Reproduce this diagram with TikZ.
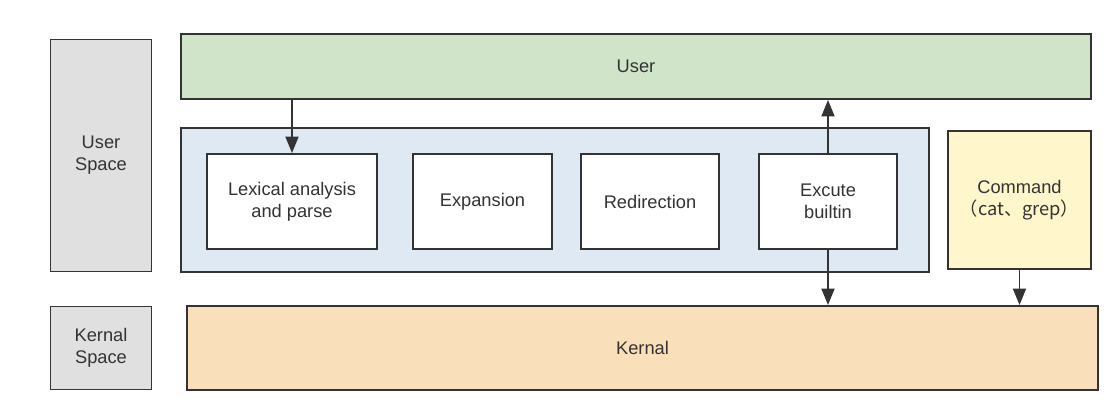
\documentclass[tikz,border=0pt]{standalone}
\usepackage{fontspec}
\setmainfont{Liberation Sans}
\newfontfamily\cjk{Noto Sans CJK SC}
\usetikzlibrary{arrows.meta}
\definecolor{userfill}{RGB}{208,228,201}
\definecolor{shellfill}{RGB}{222,233,243}
\definecolor{cmdfill}{RGB}{255,246,204}
\definecolor{kernfill}{RGB}{250,224,186}
\definecolor{spacefill}{RGB}{224,224,224}
\definecolor{linegray}{RGB}{51,51,51}
\begin{document}
\begin{tikzpicture}[x=0.02cm,y=-0.02cm]
	\tikzstyle{layer}=[rectangle,line width=1.1pt,draw=linegray,text=linegray,align=center,inner sep=0pt,font=\fontsize{10.4}{12.4}\selectfont]
	\tikzstyle{space}=[layer,fill=spacefill,minimum width=2.02cm]
	\tikzstyle{stage}=[layer,fill=white,minimum height=1.9cm]
	\tikzstyle{edge}=[draw,line width=1.1pt,linegray,-{Triangle[length=3.3mm,width=2.6mm]}]
	\useasboundingbox (0,0) rectangle (1120,412);
	\begin{scope}
		\node [space] (userspace) at (101,155.5) [minimum height=4.64cm] {User\\Space};
		\node [space] (kernalspace) at (101,348) [minimum height=1.66cm] {Kernal\\Space};
		\node [layer,fill=userfill,minimum width=18.2cm,minimum height=1.3cm] (user) at (636,66.5) {User};
		\node [layer,fill=shellfill,minimum width=14.96cm,minimum height=2.88cm] (shell) at (555,200) {};
		\node [stage,minimum width=3.4cm] (lexical) at (292,201.5) {Lexical analysis\\and parse};
		\node [stage,minimum width=2.78cm] (expansion) at (482.5,201.5) {Expansion};
		\node [stage,minimum width=2.76cm] (redirection) at (650,201.5) {Redirection};
		\node [stage,minimum width=2.76cm] (excute) at (828,201.5) {Excute\\builtin};
		\node [layer,fill=cmdfill,minimum width=2.86cm,minimum height=2.76cm] (command) at (1019.5,200) {Command\\{\cjk （cat、grep）}};
		\node [layer,fill=kernfill,minimum width=18.22cm,minimum height=1.68cm] (kernal) at (642.5,348) {Kernal};
		\path[edge] (user.south -| lexical.north) -- (lexical.north);
		\path[edge] (excute.north) -- (user.south -| excute.north);
		\path[edge] (excute.south) -- (kernal.north -| excute.south);
		\path[edge] (command.south) -- (kernal.north -| command.south);
	\end{scope}
\end{tikzpicture}
\end{document}
